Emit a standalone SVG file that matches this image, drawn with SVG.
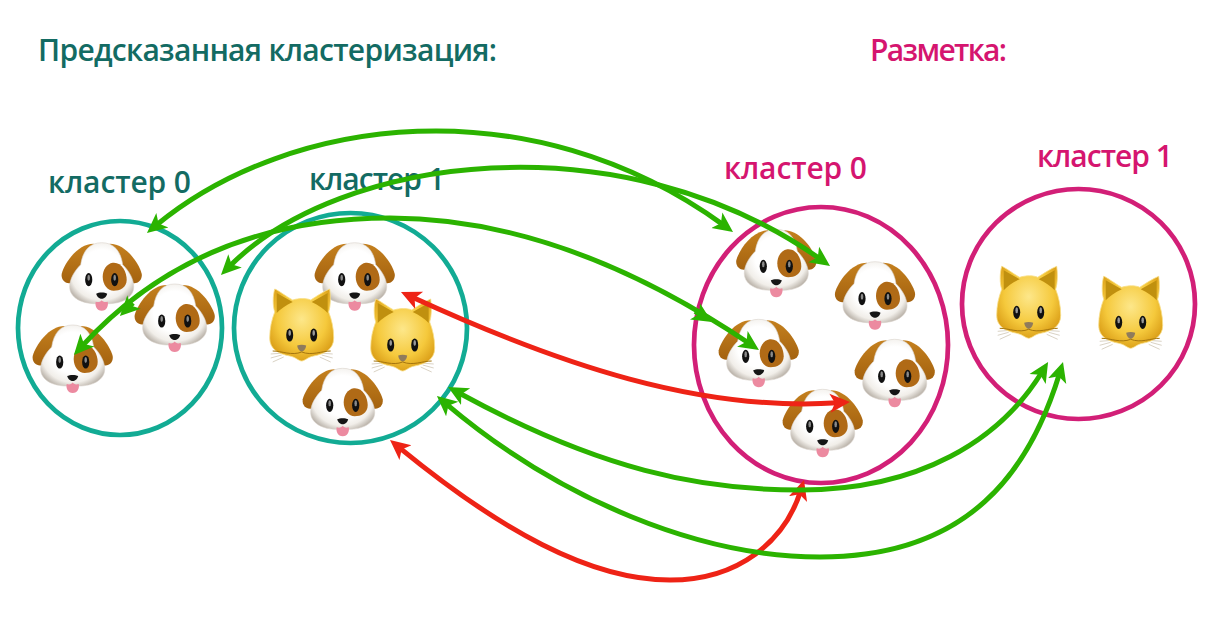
<svg xmlns="http://www.w3.org/2000/svg" xmlns:xlink="http://www.w3.org/1999/xlink" width="1226" height="618" viewBox="0 0 1226 618">
<style>
text{font-family:"Open Sans","Noto Sans","DejaVu Sans",sans-serif;font-size:30px;font-weight:600}
.t{fill:#136B63}.p{fill:#D5156F}
.ct{fill:none;stroke:#12AB94;stroke-width:4.7}
.cp{fill:none;stroke:#D21F77;stroke-width:4.7}
.g{fill:none;stroke:#2BB300;stroke-width:5;marker-start:url(#hg);marker-end:url(#hg)}
.r{fill:none;stroke:#EE2316;stroke-width:5;marker-start:url(#hr);marker-end:url(#hr)}
.mg{fill:none;stroke:#2BB300;stroke-width:5;marker-end:url(#hg)}
</style>
<defs>
<marker id="hg" markerUnits="userSpaceOnUse" markerWidth="22" markerHeight="22" refX="8" refY="11" orient="auto-start-reverse"><path d="M20,11 L0,1.5 L5,11 L0,20.5Z" fill="#2BB300"/></marker>
<marker id="hr" markerUnits="userSpaceOnUse" markerWidth="22" markerHeight="22" refX="8" refY="11" orient="auto-start-reverse"><path d="M20,11 L0,1.5 L5,11 L0,20.5Z" fill="#EE2316"/></marker>
<radialGradient id="dw" cx="0.5" cy="0.45" r="0.6"><stop offset="0.55" stop-color="#ffffff"/><stop offset="0.82" stop-color="#F1EEE9"/><stop offset="1" stop-color="#BDB6AD"/></radialGradient>
<radialGradient id="cy" cx="0.5" cy="0.42" r="0.62"><stop offset="0" stop-color="#FDE78A"/><stop offset="0.62" stop-color="#F5C93C"/><stop offset="1" stop-color="#D89A14"/></radialGradient>
<linearGradient id="er" x1="0" y1="0" x2="0" y2="1"><stop offset="0" stop-color="#C4801E"/><stop offset="1" stop-color="#A4620F"/></linearGradient>
<g id="dog">
<path d="M-8,-33 C-24,-33 -37,-14 -40,-3 C-41,4 -35,8 -30,6 L-10,-14Z" fill="url(#er)"/>
<path d="M8,-33 C24,-33 37,-14 40,-3 C41,4 35,8 30,6 L10,-14Z" fill="url(#er)"/>
<path d="M0,-34 C-12,-34 -19,-26 -21,-12 C-27,-6 -32,2 -32,10 C-32,21 -20,27 -6,27 L6,27 C20,27 32,21 32,10 C32,2 27,-6 21,-12 C19,-26 12,-34 0,-34Z" fill="url(#dw)" stroke="#DAD4CC" stroke-width="0.6"/>
<path d="M11,-14 C20,-15 25,-5 25,3 C25,11 18,14 12,14 C6,14 1,8 1,0 C1,-7 5,-13 11,-14Z" fill="#B06A16"/>
<ellipse cx="-13" cy="3" rx="3.6" ry="6.6" fill="#111"/><ellipse cx="13" cy="3" rx="3.6" ry="6.6" fill="#111"/>
<ellipse cx="-13" cy="1" rx="1.3" ry="3" fill="#8a8a8a"/><ellipse cx="13" cy="1" rx="1.3" ry="3" fill="#8a8a8a"/>
<path d="M-5.5,17 C-3,15.5 3,15.5 5.5,17 C5,20 2,22 0,22 C-2,22 -5,20 -5.5,17Z" fill="#151515"/>
<path d="M-6,25 C-3,26 -1,25 0,23.5 C1,25 3,26 6,25 C7,29 5,34 0,34 C-5,34 -7,29 -6,25Z" fill="#EC8AA0"/>
</g>
<g id="cat">
<path d="M-31,28 L-18,27 M-31,32 L-20,29 M-29,36 L-18,31 M31,28 L18,27 M31,32 L20,29 M29,36 L18,31" stroke="#CFC7B5" stroke-width="0.8" fill="none"/>
<path d="M-27,-37 C-24,-36 -16,-30 -9,-26 C-3,-28 5,-28 9,-26 C15,-30 23,-35 28,-37 C29,-30 29,-20 27,-14 C30,-6 32,2 32,12 C32,24 22,28 12,30 C6,31 3,35 0,35 C-3,35 -6,31 -12,30 C-22,28 -32,24 -32,12 C-32,2 -30,-6 -27,-14 C-29,-20 -29,-30 -27,-37Z" fill="url(#cy)" stroke="#F9E08A" stroke-width="0.8"/>
<path d="M-25,-33 L-9,-24 C-16,-21 -21,-17 -25,-13Z" fill="#C0900F"/>
<path d="M26,-33 L10,-24 C17,-21 22,-17 26,-13Z" fill="#C0900F"/>
<ellipse cx="-12" cy="9" rx="3.5" ry="6.6" fill="#111"/><ellipse cx="12" cy="9" rx="3.5" ry="6.6" fill="#111"/>
<ellipse cx="-12" cy="7" rx="1.3" ry="3" fill="#999"/><ellipse cx="12" cy="7" rx="1.3" ry="3" fill="#999"/>
<path d="M-4.5,19.5 C-2,18.5 2,18.5 4.5,19.5 C4,23 2,25.5 0,25.5 C-2,25.5 -4,23 -4.5,19.5Z" fill="#8F7B5C"/>
<path d="M-29,25 C-20,25 -10,30 0,26 C10,30 20,25 29,25" fill="none" stroke="#A5760F" stroke-width="1"/>
</g>
</defs>
<rect width="1226" height="618" fill="#fff"/>
<g id="title-pred"><text class="t" x="38" y="61" textLength="459">Предсказанная кластеризация:</text></g>
<g id="title-gt"><text class="p" x="870" y="61" textLength="137">Разметка:</text></g>
<g id="pred-0">
<text class="t" x="48" y="193" textLength="143">кластер 0</text>
<ellipse class="ct" cx="120" cy="328" rx="102" ry="107"/>
<use href="#dog" x="101.7" y="276.7"/><use href="#dog" x="174.7" y="318"/><use href="#dog" x="72.7" y="359"/>
</g>
<g id="pred-1">
<text class="t" x="309" y="190" textLength="136">кластер 1</text>
<ellipse class="ct" cx="350.5" cy="328" rx="116.5" ry="115"/>
<use href="#dog" x="354.7" y="276.7"/><use href="#cat" x="301.7" y="326"/><use href="#cat" x="402.7" y="336"/><use href="#dog" x="342.7" y="402.3"/>
</g>
<g id="gt-0">
<text class="p" x="724" y="179" textLength="143">кластер 0</text>
<ellipse class="cp" cx="821" cy="345" rx="127" ry="138"/>
<use href="#dog" x="776.3" y="263.3"/><use href="#dog" x="875" y="295.7"/><use href="#dog" x="758.7" y="353.3"/><use href="#dog" x="894.7" y="373.3"/><use href="#dog" x="822.7" y="423.3"/>
</g>
<g id="gt-1">
<text class="p" x="1037" y="167" textLength="136">кластер 1</text>
<ellipse class="cp" cx="1078.5" cy="304" rx="116.5" ry="115"/>
<use href="#cat" x="1028.7" y="303.3"/><use href="#cat" x="1130.7" y="313.3"/>
</g>
<g id="connectors">
<path class="g" d="M156.2,225.3 C290,115 530,85 723.3,224.9"/>
<path class="g" d="M229.4,266.5 C340,155 620,118 820.2,259"/>
<path class="g" d="M82,346.1 C170,250 280,218 390,218 C520,218 640,270 749,343.3"/>
<path class="mg" d="M133,303 L128.4,307.6"/>
<path class="mg" d="M695,311.4 L701.8,315.6"/>
<path class="r" d="M411.9,297 C560,365 700,412 838,402.8"/>
<path class="r" d="M399.3,447.6 C500,530 590,580 670,580 C740,580 785,540 800.4,491.4"/>
<path class="g" d="M458.6,392.8 C600,470 700,490 800,490 C920,490 1000,440 1041.8,372.2"/>
<path class="g" d="M446.1,403.8 C560,500 700,557 820,557 C970,557 1030,470 1059.5,373.5"/>
</g>
</svg>
